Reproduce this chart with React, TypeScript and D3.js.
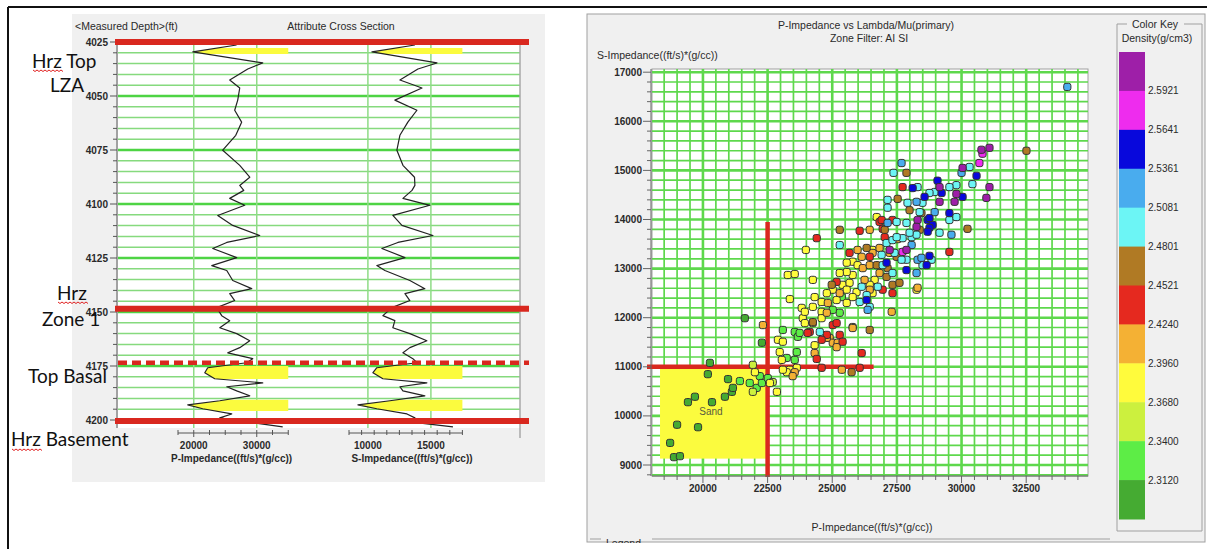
import React from "react";
import * as d3 from "d3";

const UI_FONT = "'Liberation Sans', Arial, sans-serif";
const NOTE_FONT = "Lato, 'Open Sans', sans-serif";

// ---------------- Attribute cross section (well logs) ----------------
const DEPTH_TICKS = [4025, 4050, 4075, 4100, 4125, 4150, 4175, 4200];
const P_TRACK_TICKS = [20000, 30000];
const S_TRACK_TICKS = [10000, 15000];

const LOG_DEPTH = [
  4026.4, 4029.6, 4034.7, 4037.5, 4042.6, 4046.3, 4051.9, 4056.6, 4062.1, 4068.2,
  4075.1, 4082.1, 4087.6, 4091.4, 4093.7, 4097.4, 4100.6, 4105.3, 4109.9, 4114.6,
  4117.8, 4120.6, 4124.8, 4128.5, 4130.8, 4135.4, 4139.2, 4141.5, 4144.7, 4148.0,
  4151.7, 4154.0, 4157.3, 4160.0, 4163.3, 4166.5, 4168.9, 4171.6, 4173.5, 4175.8,
  4178.1, 4180.9, 4182.8, 4184.6, 4186.5, 4188.8, 4191.1, 4193.0, 4194.8, 4197.2,
  4199.0, 4200.9, 4203.2,
];

const P_IMPEDANCE_LOG = [
  26800, 19850, 30950, 28570, 25710, 27300, 26980, 26500, 27600, 26670,
  24600, 27300, 28890, 27300, 27940, 25710, 28090, 23810, 26190, 30470,
  25240, 23020, 26820, 22860, 25240, 26190, 29200, 25710, 26500, 23650,
  24440, 25710, 24130, 26820, 28890, 27300, 25400, 29360, 28410, 22220,
  21750, 23330, 30950, 25240, 26820, 28890, 24130, 19050, 21430, 26030,
  24130, 28410, 34120,
];

const S_IMPEDANCE_LOG = [
  13730, 10320, 15480, 13970, 12540, 14290, 12140, 13890, 13170, 12540,
  12300, 12780, 13700, 13730, 13500, 12780, 14920, 11980, 12700, 15160,
  12380, 11110, 12940, 10710, 11350, 13330, 14520, 12940, 13330, 11900,
  11190, 12140, 11980, 13330, 14680, 13330, 12780, 13570, 13890, 10710,
  10400, 11190, 14680, 12540, 12780, 14520, 11750, 9210, 10710, 13100,
  13730, 13330, 16750,
];

// depth intervals flagged as sand (shaded yellow in both tracks)
const SAND_INTERVALS: [number, number][] = [
  [4027.8, 4030.6],
  [4175.0, 4181.0],
  [4190.6, 4195.8],
];

// interpreted horizons (depth, dashed?)
const HORIZON_DEPTHS = [4025, 4148.5, 4173.5, 4200.5];
const HORIZON_DASHED = [false, false, true, false];

// ---------------- Crossplot ----------------
const XPLOT_X_TICKS = [20000, 22500, 25000, 27500, 30000, 32500];
const XPLOT_Y_TICKS = [9000, 10000, 11000, 12000, 13000, 14000, 15000, 16000, 17000];
const P_CUTOFF = 22500;
const S_CUTOFF = 11000;
const P_CUTOFF_S_TOP = 13950;
const S_CUTOFF_P_RIGHT = 26600;
const SAND_BOX_P = [18340, 22500];
const SAND_BOX_S = [9130, 11000];

const DENSITY_BREAKS = [2.312, 2.34, 2.368, 2.396, 2.424, 2.4521, 2.4801, 2.5081, 2.5361, 2.5641, 2.5921];
// colours from lowest to highest density
const DENSITY_COLORS = [
  "#45ab32", "#5ded46", "#ccf03e", "#fffb3c", "#f4b134", "#e5291f",
  "#b07a24", "#6cf5f5", "#49acee", "#0808dc", "#ee2cee", "#9e1fa8",
];

// [P-impedance, S-impedance, density]
const XPLOT_POINTS: [number, number, number][] = [
  // dark green
  [18730, 9450, 2.3], [18880, 9160, 2.3], [19110, 9180, 2.3], [19000, 9820, 2.3], [19810, 9770, 2.3],
  [19420, 10280, 2.3], [19690, 10390, 2.3], [20350, 10280, 2.3], [20190, 10850, 2.3], [20270, 11080, 2.3],
  [20850, 10390, 2.3], [20970, 10750, 2.3], [21120, 10490, 2.3], [21160, 10570, 2.3], [22280, 11490, 2.3],
  [21620, 11990, 2.3],
  // green
  [21430, 10710, 2.33], [21810, 10670, 2.33], [22080, 10570, 2.33], [22200, 10810, 2.33], [22280, 10670, 2.33],
  [22510, 10770, 2.33], [23240, 11180, 2.33], [23550, 11710, 2.33], [23670, 11610, 2.33], [23630, 11300, 2.33],
  [23550, 11140, 2.33], [23740, 11690, 2.33], [25370, 12420, 2.33], [25290, 12100, 2.33], [25020, 12160, 2.33],
  [23090, 11750, 2.33],
  // yellow-green
  [21930, 10490, 2.355], [21930, 11040, 2.355], [22700, 10690, 2.355],
  // yellow
  [22010, 10890, 2.38], [22590, 10670, 2.38], [22860, 10490, 2.38], [22900, 11550, 2.38], [23090, 11510, 2.38],
  [22970, 11300, 2.38], [23050, 11140, 2.38], [23360, 10940, 2.38], [23240, 10890, 2.38], [23090, 10940, 2.38],
  [23280, 12870, 2.38], [23550, 12890, 2.38], [24250, 12770, 2.38], [23980, 13380, 2.38], [23360, 12380, 2.38],
  [23820, 12200, 2.38], [23860, 11990, 2.38], [23940, 11890, 2.38], [24250, 11890, 2.38], [24320, 11440, 2.38],
  [25790, 11810, 2.38], [23630, 10980, 2.38], [26720, 14050, 2.38], [26560, 13380, 2.38], [25790, 13140, 2.38],
  [25560, 13120, 2.38], [25980, 13070, 2.38], [26640, 12770, 2.38], [26450, 12670, 2.38], [25790, 12870, 2.38],
  [25560, 12930, 2.38], [25290, 12910, 2.38], [25400, 12670, 2.38], [25670, 12710, 2.38], [26560, 12500, 2.38],
  [25940, 12520, 2.38], [25560, 12570, 2.38], [25020, 12570, 2.38], [24790, 12500, 2.38], [24320, 12420, 2.38],
  [24590, 12320, 2.38], [25170, 12360, 2.38], [25560, 12300, 2.38], [25790, 12420, 2.38], [24590, 12120, 2.38],
  [24250, 12220, 2.38], [23940, 12120, 2.38], [24590, 11990, 2.38], [28260, 12570, 2.38],
  // orange
  [22320, 11850, 2.41], [23550, 10890, 2.41], [23470, 10810, 2.41], [24320, 11280, 2.41], [24900, 11590, 2.41],
  [25020, 11490, 2.41], [25210, 11490, 2.41], [25370, 10940, 2.41], [26450, 13790, 2.41], [25980, 13380, 2.41],
  [26830, 13420, 2.41], [27530, 13600, 2.41], [27220, 13320, 2.41], [26560, 13320, 2.41], [26140, 13240, 2.41],
  [26180, 13010, 2.41], [26450, 13070, 2.41], [26830, 12910, 2.41], [26250, 12770, 2.41], [26450, 12570, 2.41],
  [28300, 12610, 2.41], [25290, 12500, 2.41], [24830, 12300, 2.41], [24790, 12100, 2.41], [25170, 11400, 2.41],
  [25790, 11790, 2.41], [27300, 12120, 2.41], [24790, 11590, 2.41],
  // red
  [24130, 11710, 2.44], [24400, 11160, 2.44], [24790, 11650, 2.44], [24590, 11550, 2.44], [25290, 11650, 2.44],
  [25400, 11510, 2.44], [26140, 11280, 2.44], [24590, 10980, 2.44], [26060, 10980, 2.44], [27720, 14660, 2.44],
  [26830, 13950, 2.44], [26950, 13810, 2.44], [26060, 13770, 2.44], [24400, 13620, 2.44], [25670, 13320, 2.44],
  [26450, 13240, 2.44], [25170, 12730, 2.44], [26950, 12570, 2.44], [27330, 12500, 2.44], [25020, 11850, 2.44],
  [24050, 11690, 2.44], [25170, 11890, 2.44], [27330, 13990, 2.44], [26910, 13990, 2.44], [27030, 13640, 2.44],
  [29530, 13340, 2.44],
  // brown
  [26450, 11750, 2.465], [25750, 10890, 2.465], [27870, 14950, 2.465], [27530, 14420, 2.465], [27990, 14190, 2.465],
  [25290, 13790, 2.465], [26330, 13420, 2.465], [28380, 13790, 2.465], [27490, 13240, 2.465], [26720, 13070, 2.465],
  [27140, 13010, 2.465], [27100, 12830, 2.465], [24980, 12670, 2.465], [27330, 12670, 2.465], [27600, 12710, 2.465],
  [24250, 11910, 2.465], [32510, 15400, 2.465], [28450, 14130, 2.465], [30230, 13810, 2.465], [27030, 13790, 2.465],
  // cyan
  [24520, 11710, 2.495], [27370, 14950, 2.495], [28300, 14660, 2.495], [27140, 14400, 2.495], [27140, 14240, 2.495],
  [27910, 14340, 2.495], [28380, 14150, 2.495], [27490, 13950, 2.495], [25290, 13480, 2.495], [27100, 13520, 2.495],
  [27330, 13580, 2.495], [27720, 13620, 2.495], [28070, 13640, 2.495], [28260, 13690, 2.495], [26950, 13070, 2.495],
  [27870, 13180, 2.495], [28490, 13070, 2.495], [28840, 13180, 2.495], [27330, 12910, 2.495], [26140, 12630, 2.495],
  [26760, 12630, 2.495], [26330, 12460, 2.495], [26060, 12320, 2.495], [26450, 12220, 2.495], [30310, 15070, 2.495],
  [30420, 14720, 2.495], [29800, 14700, 2.495], [29530, 14660, 2.495], [28960, 14560, 2.495], [28760, 14540, 2.495],
  [28490, 14340, 2.495], [29530, 13990, 2.495], [29800, 14050, 2.495], [29150, 13730, 2.495], [27990, 13730, 2.495],
  [27870, 13930, 2.495], [27490, 13640, 2.495], [27680, 13180, 2.495], [26910, 13280, 2.495], [27410, 13320, 2.495],
  // light blue
  [27680, 15150, 2.52], [28260, 14360, 2.52], [27140, 13930, 2.52], [28070, 13480, 2.52], [28300, 13180, 2.52],
  [28260, 12910, 2.52], [26370, 12160, 2.52], [34090, 16700, 2.52], [30000, 14950, 2.52], [28960, 14150, 2.52],
  [29610, 13690, 2.52], [28450, 13220, 2.52],
  // blue
  [28110, 14640, 2.55], [28570, 14460, 2.55], [28690, 13990, 2.55], [28880, 13890, 2.55], [27870, 12970, 2.55],
  [26330, 12360, 2.55], [30580, 14890, 2.55], [29070, 14790, 2.55], [29230, 14540, 2.55], [30040, 14460, 2.55],
  [28760, 14030, 2.55], [29530, 14130, 2.55], [28760, 13830, 2.55], [28690, 13750, 2.55], [28650, 13070, 2.55],
  [28760, 13260, 2.55], [27100, 13120, 2.55],
  // magenta
  [27720, 13340, 2.58], [30810, 15340, 2.58], [30690, 15150, 2.58],
  // purple
  [28300, 13990, 2.61], [27870, 13380, 2.61], [30770, 15420, 2.61], [31080, 15460, 2.61], [30040, 15050, 2.61],
  [31080, 14660, 2.61], [30960, 14440, 2.61], [29150, 14660, 2.61], [29800, 14520, 2.61], [29730, 14360, 2.61],
  [29150, 14360, 2.61], [28260, 13850, 2.61], [27220, 13380, 2.61],
];

function Squiggle({ x, y, w }: { x: number; y: number; w: number }) {
  const pts: [number, number][] = d3.range(0, w + 0.1, 2).map((d, i) => [x + d, y + (i % 2 ? 1.5 : 0)]);
  return <path d={d3.line()(pts) || ""} fill="none" stroke="#e02020" strokeWidth={1} />;
}

export default function App() {
  // ---- log section scales ----
  const depthY = d3.scaleLinear().domain([4025, 4200]).range([42, 420]);
  const pX = d3.scaleLinear().domain([17500, 35000]).range([178, 288.25]);
  const sX = d3.scaleLinear().domain([8500, 17500]).range([349, 462.4]);
  const trackL = 118, trackR = 520, trackT = 40, trackB = 428;
  const gridDepths = d3.range(4025, 4201, 5);

  const logLine = (vals: number[], sc: d3.ScaleLinear<number, number>) =>
    d3.line<number>()
      .x((v) => sc(v))
      .y((_, i) => depthY(LOG_DEPTH[i]))
      .curve(d3.curveLinear)(vals) || "";
  const logFill = (vals: number[], sc: d3.ScaleLinear<number, number>) =>
    d3.area<number>()
      .x0((v) => sc(v))
      .x1(() => sc.range()[1])
      .y((_, i) => depthY(LOG_DEPTH[i]))
      .curve(d3.curveLinear)(vals) || "";

  // ---- crossplot scales ----
  const xS = d3.scaleLinear().domain([18030, 34890]).range([652, 1088]);
  const yS = d3.scaleLinear().domain([8776, 17065]).range([476, 69]);
  const plotL = 652, plotR = 1088, plotT = 69, plotB = 476;
  const colour = d3.scaleThreshold<number, string>().domain(DENSITY_BREAKS).range(DENSITY_COLORS);
  const xGrid = d3.range(18500, 34890, 500);
  const yGrid = d3.range(8800, 17065, 200);
  const keyY = d3.scaleLinear().domain([0, 12]).range([52, 519]);
  const keyColors = DENSITY_COLORS.slice().reverse();
  const keyBreaks = DENSITY_BREAKS.slice().reverse();

  const tickText = { fontFamily: UI_FONT, fontSize: 10, fontWeight: 700, fill: "#2a2a2a" } as const;
  const labelText = { fontFamily: UI_FONT, fontSize: 10.5, fill: "#2a2a2a" } as const;
  const noteText = { fontFamily: NOTE_FONT, fontSize: 19, fill: "#111" } as const;

  return (
    <svg width={1210} height={549} style={{ position: "absolute", left: 0, top: 0, background: "#fff" }}>
      <defs>
        <clipPath id="sand-clip">
          {SAND_INTERVALS.map(([a, b], i) => (
            <rect key={i} x={trackL} y={depthY(a)} width={trackR - trackL} height={depthY(b) - depthY(a)} />
          ))}
        </clipPath>
        <clipPath id="legend-clip">
          <rect x={580} y={0} width={630} height={543} />
        </clipPath>
      </defs>

      {/* outer frame */}
      <line x1={8} x2={1207} y1={7} y2={7} stroke="#111" strokeWidth={2} />
      <line x1={8} x2={8} y1={7} y2={549} stroke="#111" strokeWidth={2} />

      {/* ================= left: attribute cross section ================= */}
      <rect x={72} y={14} width={473} height={468} fill="#f0f0f0" />
      <text x={75} y={30} {...labelText}>{"<Measured Depth>(ft)"}</text>
      <text x={341} y={30} textAnchor="middle" {...labelText}>Attribute Cross Section</text>

      <rect x={trackL} y={trackT} width={trackR - trackL} height={trackB - trackT} fill="#fff" />
      {gridDepths.map((d) => (
        <line key={d} x1={trackL} x2={trackR} y1={depthY(d)} y2={depthY(d)}
          stroke={d % 25 === 0 ? "#4ed444" : "#86da7e"} strokeWidth={d % 25 === 0 ? 2.4 : 1.5} />
      ))}
      {P_TRACK_TICKS.map((v) => (
        <line key={"p" + v} x1={pX(v)} x2={pX(v)} y1={trackT} y2={trackB} stroke="#8fdc86" strokeWidth={1.5} />
      ))}
      {S_TRACK_TICKS.map((v) => (
        <line key={"s" + v} x1={sX(v)} x2={sX(v)} y1={trackT} y2={trackB} stroke="#8fdc86" strokeWidth={1.5} />
      ))}
      <line x1={trackR} x2={trackR} y1={trackT} y2={trackB + 10} stroke="#a8a8a8" strokeWidth={1.5} />

      {/* sand shading */}
      <g clipPath="url(#sand-clip)">
        <path d={logFill(P_IMPEDANCE_LOG, pX)} fill="#fbfb3e" />
        <path d={logFill(S_IMPEDANCE_LOG, sX)} fill="#fbfb3e" />
      </g>

      {/* log curves */}
      <path d={logLine(P_IMPEDANCE_LOG, pX)} fill="none" stroke="#222" strokeWidth={1.2} strokeLinejoin="round" />
      <path d={logLine(S_IMPEDANCE_LOG, sX)} fill="none" stroke="#222" strokeWidth={1.2} strokeLinejoin="round" />

      {/* depth axis */}
      <line x1={117} x2={117} y1={trackT} y2={trackB} stroke="#555" strokeWidth={1} />
      {gridDepths.map((d) => (
        <line key={"t" + d} x1={d % 25 === 0 ? 110 : 113} x2={117} y1={depthY(d)} y2={depthY(d)} stroke="#555" strokeWidth={1} />
      ))}
      {DEPTH_TICKS.map((d) => (
        <text key={"l" + d} x={108} y={depthY(d)} dy="0.35em" textAnchor="end" {...tickText}>{d}</text>
      ))}

      {/* horizons */}
      {HORIZON_DEPTHS.map((d, i) => (
        <line key={"h" + d} x1={HORIZON_DASHED[i] ? 118 : 115} x2={529} y1={depthY(d)} y2={depthY(d)}
          stroke="#d9281f" strokeWidth={HORIZON_DASHED[i] ? 4.5 : 6}
          strokeDasharray={HORIZON_DASHED[i] ? "9 5" : undefined} />
      ))}

      {/* track axes */}
      <line x1={pX(17500)} x2={pX(35000)} y1={433} y2={433} stroke="#555" />
      {d3.range(17500, 35001, 2500).map((v) => (
        <line key={"pt" + v} x1={pX(v)} x2={pX(v)} y1={430} y2={v % 10000 === 0 ? 437 : 435} stroke="#555" />
      ))}
      {P_TRACK_TICKS.map((v) => (
        <text key={"ptl" + v} x={pX(v)} y={449} textAnchor="middle" {...tickText}>{v}</text>
      ))}
      <text x={pX(26000)} y={462} textAnchor="middle" {...tickText} fontSize={10}>P-Impedance((ft/s)*(g/cc))</text>
      <line x1={sX(8500)} x2={sX(17500)} y1={433} y2={433} stroke="#555" />
      {d3.range(8500, 17501, 1000).map((v) => (
        <line key={"st" + v} x1={sX(v)} x2={sX(v)} y1={430} y2={435} stroke="#555" />
      ))}
      {S_TRACK_TICKS.map((v) => (
        <text key={"stl" + v} x={sX(v)} y={449} textAnchor="middle" {...tickText}>{v}</text>
      ))}
      <text x={sX(13500)} y={462} textAnchor="middle" {...tickText} fontSize={10}>S-Impedance((ft/s)*(g/cc))</text>

      {/* horizon notes */}
      <text x={32} y={68} {...noteText}>Hrz Top</text>
      <Squiggle x={33} y={70} w={30} />
      <text x={50} y={92} {...noteText}>LZA</text>
      <text x={57} y={300} {...noteText}>Hrz</text>
      <Squiggle x={58} y={302} w={30} />
      <text x={42} y={326} {...noteText}>Zone 1</text>
      <text x={28} y={383} {...noteText}>Top Basal</text>
      <text x={11} y={446} {...noteText}>Hrz Basement</text>
      <Squiggle x={12} y={449} w={30} />

      {/* ================= right: crossplot ================= */}
      <rect x={587} y={14} width={618} height={528} fill="#f0f0f0" stroke="#a0a0a0" strokeWidth={1} />
      <text x={866} y={29} textAnchor="middle" {...labelText}>P-Impedance vs Lambda/Mu(primary)</text>
      <text x={869} y={42} textAnchor="middle" {...labelText}>Zone Filter: AI SI</text>
      <text x={597} y={59} {...labelText}>S-Impedance((ft/s)*(g/cc))</text>

      <rect x={plotL} y={plotT} width={plotR - plotL} height={plotB - plotT} fill="#fff" stroke="#a0a0a0" />
      {xGrid.map((v) => (
        <line key={"xg" + v} x1={xS(v)} x2={xS(v)} y1={plotT} y2={plotB}
          stroke="#5ed84c" strokeWidth={v % 2500 === 0 ? 2.6 : 1.7} />
      ))}
      {yGrid.map((v) => (
        <line key={"yg" + v} x1={plotL} x2={plotR} y1={yS(v)} y2={yS(v)}
          stroke="#5ed84c" strokeWidth={v % 1000 === 0 ? 2.6 : 1.7} />
      ))}

      {/* sand zone */}
      <rect x={xS(SAND_BOX_P[0])} y={yS(SAND_BOX_S[1])} width={xS(SAND_BOX_P[1]) - xS(SAND_BOX_P[0])}
        height={yS(SAND_BOX_S[0]) - yS(SAND_BOX_S[1])} fill="#fbfb3e" />
      <text x={xS(20310)} y={yS(10080)} dy="0.35em" textAnchor="middle" fontFamily={UI_FONT} fontSize={10} fill="#5a5a40">Sand</text>

      {/* cutoffs */}
      <line x1={xS(P_CUTOFF)} x2={xS(P_CUTOFF)} y1={yS(P_CUTOFF_S_TOP)} y2={plotB + 1} stroke="#d9281f" strokeWidth={4.5} />
      <line x1={plotL - 5} x2={xS(S_CUTOFF_P_RIGHT)} y1={yS(S_CUTOFF)} y2={yS(S_CUTOFF)} stroke="#d9281f" strokeWidth={4.5} />

      {/* samples */}
      {XPLOT_POINTS.map(([p, s, rho], i) => (
        <rect key={i} x={xS(p) - 3.6} y={yS(s) - 3.6} width={7.2} height={7.2} rx={2.2}
          fill={colour(rho)} stroke="#333" strokeWidth={1} />
      ))}

      {/* axes */}
      <line x1={plotL - 1} x2={plotL - 1} y1={plotT} y2={plotB} stroke="#666" />
      {yGrid.map((v) => (
        <line key={"yt" + v} x1={v % 1000 === 0 ? plotL - 9 : plotL - 5} x2={plotL - 1} y1={yS(v)} y2={yS(v)} stroke="#666" />
      ))}
      {XPLOT_Y_TICKS.map((v) => (
        <text key={"yl" + v} x={642} y={yS(v)} dy="0.35em" textAnchor="end" {...tickText}>{v}</text>
      ))}
      <line x1={plotL} x2={plotR} y1={plotB} y2={plotB} stroke="#666" />
      {xGrid.map((v) => (
        <line key={"xt" + v} x1={xS(v)} x2={xS(v)} y1={plotB} y2={v % 2500 === 0 ? plotB + 7 : plotB + 4} stroke="#666" />
      ))}
      {XPLOT_X_TICKS.map((v) => (
        <text key={"xl" + v} x={xS(v)} y={492} textAnchor="middle" {...tickText}>{v}</text>
      ))}
      <text x={872} y={531} textAnchor="middle" {...labelText}>P-Impedance((ft/s)*(g/cc))</text>

      {/* legend group (cut at panel edge) */}
      <g clipPath="url(#legend-clip)">
        <line x1={590} x2={601} y1={539} y2={539} stroke="#a0a0a0" />
        <line x1={652} x2={1110} y1={539} y2={539} stroke="#a0a0a0" />
        <text x={606} y={547} {...labelText}>Legend</text>
      </g>

      {/* colour key */}
      <path d="M1127,24 H1117 V531 H1202 V24 H1184" fill="none" stroke="#a0a0a0" />
      <text x={1155} y={28} textAnchor="middle" {...labelText}>Color Key</text>
      <text x={1157} y={42} textAnchor="middle" {...labelText}>Density(g/cm3)</text>
      {keyColors.map((c, i) => (
        <rect key={"k" + i} x={1119} y={keyY(i)} width={26} height={keyY(i + 1) - keyY(i) + 0.5} fill={c} />
      ))}
      {keyBreaks.map((b, i) => (
        <text key={"kb" + i} x={1148} y={keyY(i + 1)} dy="0.35em" fontFamily={UI_FONT} fontSize={10} fill="#2a2a2a">
          {b.toFixed(4)}
        </text>
      ))}
    </svg>
  );
}
